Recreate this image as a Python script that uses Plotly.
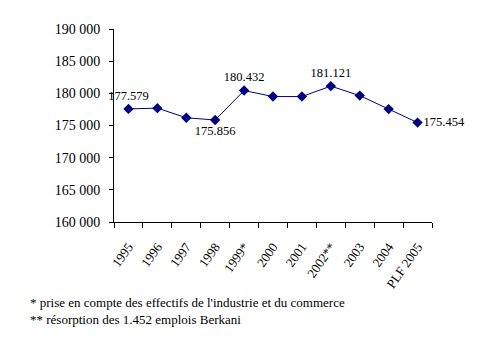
import plotly.graph_objects as go

categories = ["1995", "1996", "1997", "1998", "1999*", "2000", "2001", "2002**", "2003", "2004", "PLF 2005"]
values = [177579, 177700, 176200, 175856, 180432, 179500, 179500, 181121, 179650, 177550, 175454]
labels = ["177.579", "", "", "175.856", "180.432", "", "", "181.121", "", "", "175.454"]
label_pos = ["top center", "top center", "top center", "bottom center", "top center", "top center",
             "top center", "top center", "top center", "top center", "middle right"]
ytick_vals = [160000, 165000, 170000, 175000, 180000, 185000, 190000]
ytick_text = ["160 000", "165 000", "170 000", "175 000", "180 000", "185 000", "190 000"]
notes = ["* prise en compte des effectifs de l'industrie et du commerce",
         "** résorption des 1.452 emplois Berkani"]

navy = "#000080"
font = "Liberation Serif"

fig = go.Figure()
fig.add_trace(go.Scatter(
    x=categories, y=values, mode="lines+markers+text",
    line=dict(color=navy, width=1),
    marker=dict(symbol="diamond", size=8, color=navy),
    text=labels, textposition=label_pos,
    textfont=dict(family=font, size=12.5, color="black"),
    cliponaxis=False, hoverinfo="skip",
))

fig.update_layout(
    width=477, height=341,
    margin=dict(l=114, r=45, t=29, b=119, autoexpand=False),
    paper_bgcolor="white", plot_bgcolor="white",
    showlegend=False,
    font=dict(family=font, size=12.5, color="black"),
)
fig.update_xaxes(
    type="category", tickson="boundaries", ticks="outside", ticklen=5,
    tickcolor="black", showline=True, linecolor="black", linewidth=1,
    showgrid=False, tickangle=-55, tickfont=dict(family=font, size=13),
    ticklabelstandoff=11,
    range=[-0.5, len(categories) - 0.5],
)
fig.update_yaxes(
    range=[160000, 190000], tickvals=ytick_vals, ticktext=ytick_text,
    ticks="outside", ticklen=4, tickcolor="black", showline=True,
    linecolor="black", linewidth=1, showgrid=False, zeroline=False,
    tickfont=dict(family=font, size=14), ticklabelstandoff=6,
)
for i, n in enumerate(notes):
    fig.add_annotation(text=n, xref="paper", yref="paper", x=(28 - 114) / 318,
                       y=(341 - 119 - (302 + 17 * i)) / 193, xanchor="left", yanchor="middle",
                       showarrow=False, font=dict(family=font, size=13))

fig.write_html("out.html")
